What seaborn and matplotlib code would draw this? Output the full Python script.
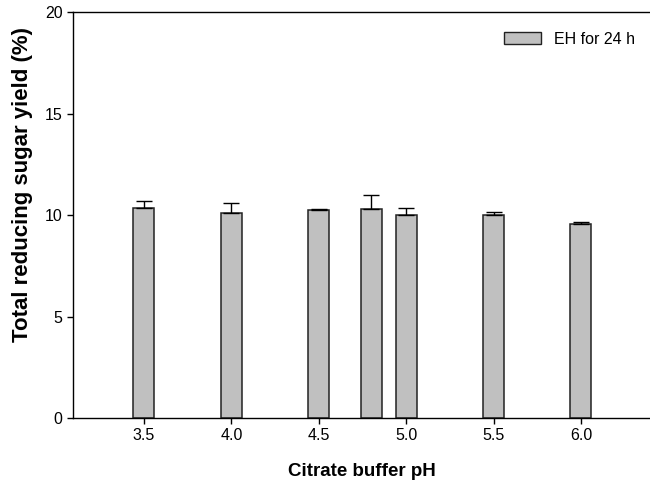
import matplotlib
matplotlib.use("Agg")
import matplotlib.pyplot as plt
import seaborn as sns
import pandas as pd
from matplotlib.patches import Patch

ph = [3.5, 4.0, 4.5, 4.8, 5.0, 5.5, 6.0]
yield_pct = [10.33, 10.08, 10.25, 10.28, 9.98, 10.01, 9.56]
yield_err = [0.34, 0.50, 0.05, 0.70, 0.36, 0.12, 0.10]
series_label = "EH for 24 h"
xticks = [3.5, 4.0, 4.5, 5.0, 5.5, 6.0]
yticks = [0, 5, 10, 15, 20]

sns.set_style("ticks")
plt.rcParams['font.family'] = ['Liberation Sans', 'DejaVu Sans']
plt.rcParams['text.color'] = 'black'

df = pd.DataFrame({"ph": ph, "y": yield_pct})

fig = plt.figure(figsize=(6.5, 4.9), dpi=100)
ax = fig.add_axes([0.1123, 0.1469, 0.8877, 0.8286])

sns.barplot(data=df, x="ph", y="y", native_scale=True, width=0.6,
            color="#C0C0C0", saturation=1, edgecolor="#222222",
            linewidth=1.1, errorbar=None, ax=ax)
ax.errorbar(ph, yield_pct, yerr=[[0]*len(ph), yield_err], fmt="none",
            ecolor="black", elinewidth=1.0, capsize=6, capthick=1.0)

ax.set_xlim(3.094, 6.395)
ax.set_ylim(0, 20)
ax.set_xticks(xticks)
ax.set_xticklabels([f"{t:.1f}" for t in xticks])
ax.set_yticks(yticks)
ax.tick_params(axis="both", labelsize=11.5, length=4, width=1, color="black",
               labelcolor="black", direction="out")
for s in ["left", "bottom", "top"]:
    ax.spines[s].set_visible(True)
    ax.spines[s].set_color("black")
    ax.spines[s].set_linewidth(1)
ax.spines["right"].set_visible(False)

ax.set_xlabel("Citrate buffer pH", fontsize=13.5, fontweight="bold", labelpad=14,
              color="black")
ax.set_ylabel("Total reducing sugar yield (%)", fontsize=16, fontweight="bold",
              color="black")
ax.yaxis.set_label_coords(-0.069, 0.574)

handle = Patch(facecolor="#C0C0C0", edgecolor="#222222", linewidth=1.0)
leg = ax.legend([handle], [series_label], loc="upper right", frameon=False,
                fontsize=11.5, handlelength=2.35, handleheight=0.7,
                bbox_to_anchor=(0.999, 0.987))
for t in leg.get_texts():
    t.set_color("black")

fig.savefig("out.png", dpi=100)
